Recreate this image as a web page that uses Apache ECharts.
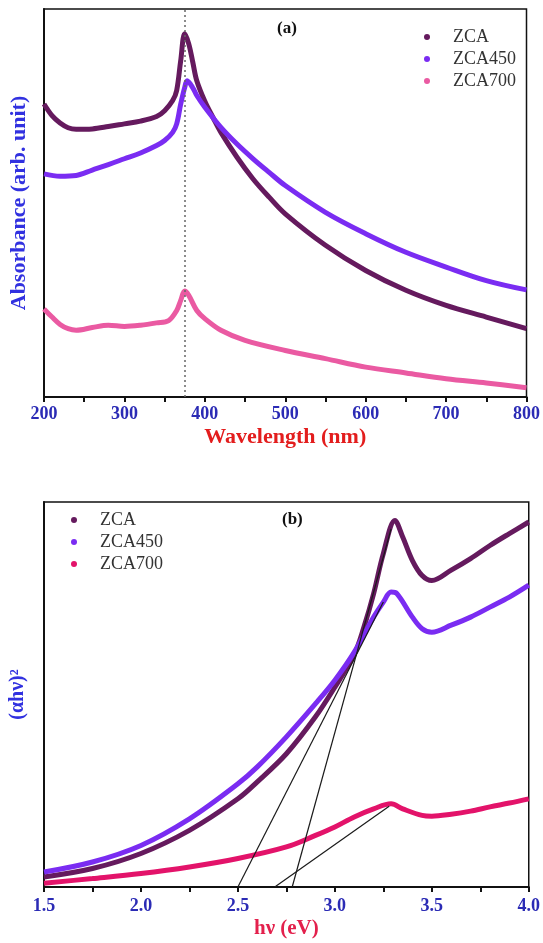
<!DOCTYPE html>
<html>
<head>
<meta charset="utf-8">
<title>ZCA absorbance and Tauc plot</title>
<script src="https://cdn.jsdelivr.net/npm/echarts@6/dist/echarts.min.js"></script>
<style>
  html, body { margin: 0; padding: 0; background: #fff; }
  #chart { width: 543px; height: 943px; }
</style>
</head>
<body>
<div id="chart"></div>
<script>
// (a) absorbance vs wavelength (nm), arbitrary units 0..100
const zcaWl  = [200, 210, 220, 230, 240, 260, 280, 300, 320, 340, 350, 360, 365, 370, 375, 380, 385, 390, 400, 410, 420, 440, 460, 480, 500, 550, 600, 650, 700, 750, 800];
const zcaAbs = [75.5, 72.5, 70.6, 69.4, 69.0, 69.1, 69.7, 70.4, 71.1, 72.3, 73.8, 76.4, 79.0, 86.7, 93.6, 91.0, 86.3, 81.5, 76.2, 72.1, 68.2, 61.8, 56.2, 51.5, 47.2, 39.1, 32.6, 27.5, 23.6, 20.6, 17.6];

const zca450Wl  = [200, 220, 240, 260, 280, 300, 320, 340, 350, 360, 365, 370, 375, 378, 385, 390, 400, 420, 440, 460, 480, 500, 550, 600, 650, 700, 750, 800];
const zca450Abs = [57.5, 56.9, 57.1, 58.5, 59.9, 61.4, 62.9, 64.8, 66.1, 68.2, 70.4, 75.5, 79.8, 81.5, 79.7, 77.7, 74.7, 69.5, 65.2, 61.4, 57.9, 54.5, 47.6, 42.1, 37.3, 33.5, 30.0, 27.6];

const zca700Wl  = [200, 210, 220, 230, 240, 260, 280, 300, 320, 340, 355, 365, 370, 375, 380, 390, 400, 420, 450, 500, 550, 600, 650, 700, 750, 800];
const zca700Abs = [22.7, 20.6, 18.7, 17.6, 17.2, 17.9, 18.5, 18.2, 18.5, 19.1, 19.7, 22.3, 24.9, 27.3, 26.2, 22.3, 20.2, 17.2, 14.6, 12.0, 9.9, 7.7, 6.2, 4.7, 3.6, 2.4];

const peakWl = 375;

// (b) (αhν)^2 vs photon energy (eV)
const zcaEv  = [1.5, 1.75, 2.0, 2.25, 2.5, 2.6, 2.75, 2.9, 3.0, 3.1, 3.15, 3.2, 3.25, 3.31, 3.35, 3.4, 3.45, 3.5, 3.6, 3.7, 3.8, 3.9, 4.0];
const zcaTauc = [2.6, 4.8, 8.7, 14.7, 22.9, 27.3, 34.6, 44.2, 51.9, 60.4, 67.5, 76.2, 86.6, 95.2, 90.9, 84.8, 80.9, 79.6, 82.3, 85.3, 88.7, 91.8, 94.8];

const zca450Ev   = [1.5, 1.75, 2.0, 2.25, 2.5, 2.6, 2.75, 2.9, 3.0, 3.1, 3.2, 3.25, 3.29, 3.32, 3.4, 3.45, 3.5, 3.6, 3.7, 3.8, 3.9, 4.0];
const zca450Tauc = [3.9, 6.5, 10.8, 17.7, 26.8, 31.2, 39.0, 47.6, 53.7, 61.0, 70.1, 74.0, 76.6, 76.2, 70.1, 67.1, 66.2, 68.0, 70.1, 72.7, 75.3, 78.4];

const zca700Ev   = [1.5, 1.75, 2.0, 2.25, 2.5, 2.75, 2.9, 3.0, 3.1, 3.2, 3.29, 3.35, 3.45, 3.5, 3.6, 3.7, 3.8, 3.9, 4.0];
const zca700Tauc = [1.0, 2.2, 3.5, 5.2, 7.4, 10.4, 13.4, 15.6, 18.2, 20.3, 21.6, 20.3, 18.6, 18.4, 18.9, 19.7, 20.8, 21.8, 22.9];

// tangent (band gap) lines: [x, y] end points
const fitZca450 = [[2.50, 0], [3.25, 74]];
const fitZca    = [[2.78, 0], [3.29, 93]];
const fitZca700 = [[2.69, 0], [3.28, 21]];

const colZca = '#651a5e';
const colZca450 = '#7a2cf2';
const colZca700a = '#ea5aa2';
const colZca700b = '#e3136a';

const serif = '"Liberation Serif", "DejaVu Serif", serif';
const pair = (xs, ys) => xs.map((x, i) => [x, ys[i]]);

const chart = echarts.init(document.getElementById('chart'));

function curve(name, xs, ys, color, idx) {
  return {
    name: name,
    type: 'line',
    xAxisIndex: idx,
    yAxisIndex: idx,
    data: pair(xs, ys),
    smooth: 0.35,
    showSymbol: false,
    lineStyle: { color: color, width: 5 },
    itemStyle: { color: color },
    silent: true,
    z: 3
  };
}

function fitLine(pts) {
  return {
    type: 'line',
    xAxisIndex: 1,
    yAxisIndex: 1,
    data: pts,
    showSymbol: false,
    lineStyle: { color: '#1a1a1a', width: 1.2 },
    silent: true,
    z: 4
  };
}

const legendBase = {
  orient: 'vertical',
  icon: 'circle',
  itemWidth: 6,
  itemHeight: 6,
  itemGap: 4,
  selectedMode: false,
  textStyle: { fontFamily: serif, fontSize: 18, color: '#333', padding: [0, 0, 0, 18] }
};

const option = {
  animation: false,
  title: [
    { text: '(a)', left: 272, top: 15, textStyle: { fontFamily: serif, fontSize: 17, fontWeight: 'bold', color: '#111' } },
    { text: '(b)', left: 277, top: 506, textStyle: { fontFamily: serif, fontSize: 17, fontWeight: 'bold', color: '#111' } }
  ],
  legend: [
    Object.assign({}, legendBase, {
      left: 419, top: 23,
      data: ['ZCA', 'ZCA450', { name: 'ZCA700', itemStyle: { color: colZca700a } }]
    }),
    Object.assign({}, legendBase, {
      left: 66, top: 506,
      data: ['ZCA', 'ZCA450', { name: 'ZCA700', itemStyle: { color: colZca700b } }]
    })
  ],
  grid: [
    { left: 40, top: 9, width: 490, height: 388, show: true, borderColor: '#111', borderWidth: 1.5, backgroundColor: 'transparent' },
    { left: 43, top: 502, width: 488, height: 385, show: true, borderColor: '#111', borderWidth: 1.5, backgroundColor: 'transparent' }
  ],
  xAxis: [
    {
      gridIndex: 0, type: 'value', min: 200, max: 800, interval: 100,
      name: 'Wavelength (nm)', nameLocation: 'middle', nameGap: 29,
      nameTextStyle: { fontFamily: serif, fontSize: 22, fontWeight: 'bold', color: '#e31d1d' },
      axisLine: { lineStyle: { color: '#111', width: 2 } },
      axisTick: { length: 5, lineStyle: { color: '#111', width: 2 } },
      minorTick: { show: true, splitNumber: 2, length: 5, lineStyle: { color: '#111', width: 2 } },
      splitLine: { show: false },
      axisLabel: { margin: 8, fontFamily: serif, fontSize: 18, fontWeight: 'bold', color: '#2b2bb5' }
    },
    {
      gridIndex: 1, type: 'value', min: 1.5, max: 4.0, interval: 0.5,
      name: 'hν (eV)', nameLocation: 'middle', nameGap: 31,
      nameTextStyle: { fontFamily: serif, fontSize: 21, fontWeight: 'bold', color: '#e3204c' },
      axisLine: { lineStyle: { color: '#111', width: 2 } },
      axisTick: { length: 5, lineStyle: { color: '#111', width: 2 } },
      minorTick: { show: true, splitNumber: 2, length: 5, lineStyle: { color: '#111', width: 2 } },
      splitLine: { show: false },
      axisLabel: { margin: 10, fontFamily: serif, fontSize: 18, fontWeight: 'bold', color: '#2b2bb5',
        formatter: v => v.toFixed(1) }
    }
  ],
  yAxis: [
    {
      gridIndex: 0, type: 'value', min: 0, max: 100,
      name: 'Absorbance (arb. unit)', nameLocation: 'middle', nameGap: 14,
      nameTextStyle: { fontFamily: serif, fontSize: 22, fontWeight: 'bold', color: '#3131e0' },
      axisLine: { show: true, lineStyle: { color: '#111', width: 2 } },
      axisTick: { show: false }, axisLabel: { show: false }, splitLine: { show: false }
    },
    {
      gridIndex: 1, type: 'value', min: 0, max: 100,
      name: '(αhν)²', nameLocation: 'middle', nameGap: 16,
      nameTextStyle: { fontFamily: serif, fontSize: 20, fontWeight: 'bold', color: '#3131e0' },
      axisLine: { show: true, lineStyle: { color: '#111', width: 2 } },
      axisTick: { show: false }, axisLabel: { show: false }, splitLine: { show: false }
    }
  ],
  series: [
    Object.assign(curve('ZCA', zcaWl, zcaAbs, colZca, 0), {
      markLine: {
        silent: true,
        symbol: 'none',
        label: { show: false },
        lineStyle: { type: [2, 3], color: '#666', width: 1.5 },
        data: [{ xAxis: peakWl }]
      }
    }),
    curve('ZCA450', zca450Wl, zca450Abs, colZca450, 0),
    curve('ZCA700', zca700Wl, zca700Abs, colZca700a, 0),
    curve('ZCA', zcaEv, zcaTauc, colZca, 1),
    curve('ZCA450', zca450Ev, zca450Tauc, colZca450, 1),
    curve('ZCA700', zca700Ev, zca700Tauc, colZca700b, 1),
    fitLine(fitZca450),
    fitLine(fitZca),
    fitLine(fitZca700)
  ]
};

chart.setOption(option);

window.addEventListener('resize', () => {
  chart.resize();
});
</script>
</body>
</html>
